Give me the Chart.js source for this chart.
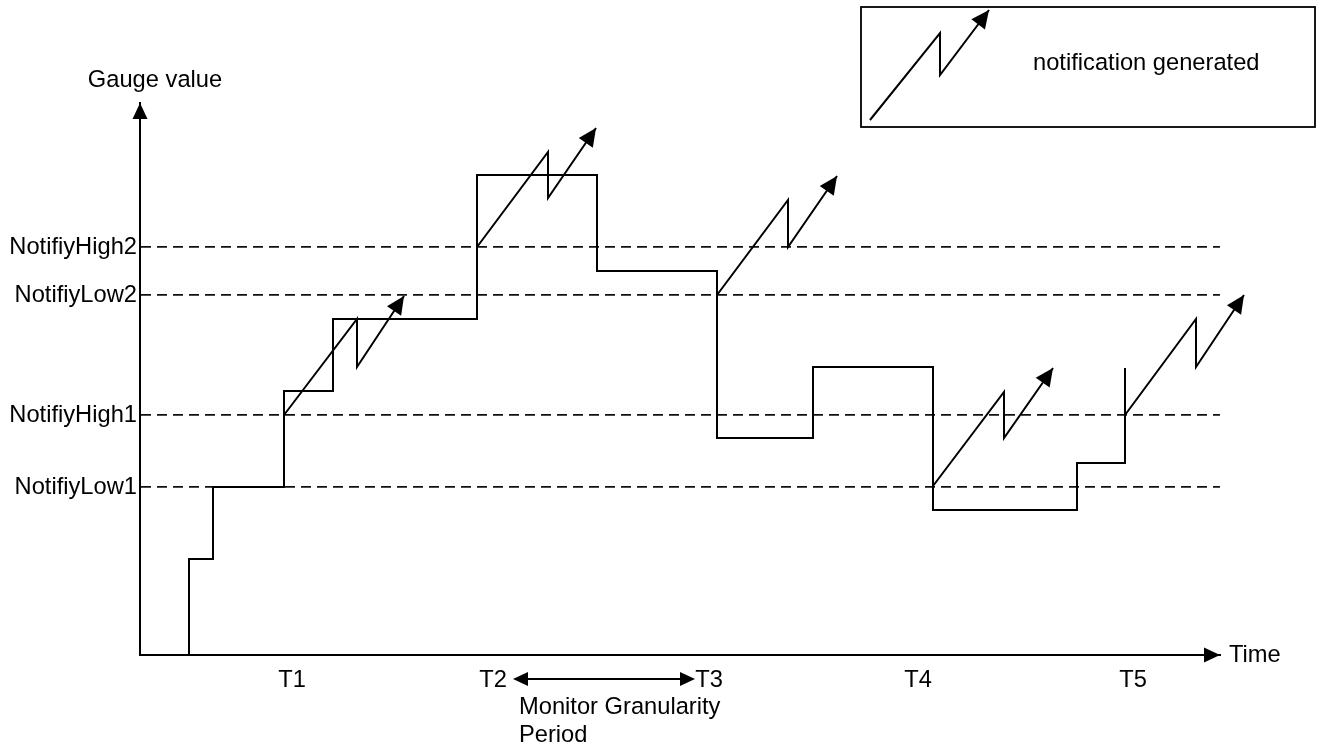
<!DOCTYPE html>
<html>
<head>
<meta charset="utf-8">
<script src="https://cdn.jsdelivr.net/npm/chart.js@4/dist/chart.umd.min.js"></script>
<style>
  html, body { margin: 0; padding: 0; background: #fff; }
  #wrap { width: 1320px; height: 744px; }
</style>
</head>
<body>
<div id="wrap"><canvas id="graf"></canvas></div>
<script>
// limiares (eixo Y)
var limiarNomes = ['NotifiyLow1', 'NotifiyHigh1', 'NotifiyLow2', 'NotifiyHigh2'];
var limiarValores = [168, 240, 360, 408];

// instantes T1..T5 (eixo X)
var tempoNomes = ['T1', 'T2', 'T3', 'T4', 'T5'];
var tempoValores = [152, 353, 569, 778, 993];

// valor do medidor (degraus)
var medidorTempo = [49, 49, 73, 144, 193, 337, 457, 577, 673, 793, 937, 985];
var medidorValor = [0, 96, 168, 264, 336, 480, 384, 217, 288, 145, 192, 287];

// notificacoes geradas: inicio, pico, queda, ponta
var notif1 = [[144, 240], [217, 336], [217, 288], [264, 359]];
var notif2 = [[337, 408], [408, 503], [408, 457], [456, 527]];
var notif3 = [[577, 360], [648, 455], [648, 408], [697, 479]];
var notif4 = [[793, 169], [864, 263], [864, 217], [913, 287]];
var notif5 = [[985, 240], [1056, 336], [1056, 288], [1104, 360]];

var familia = '"Liberation Sans", Arial, sans-serif';
var tamanho = 23.7;
var fonte = tamanho + 'px ' + familia;

function pontos(xs, ys) {
    return xs.map(function (x, i) { return {x: x, y: ys[i]}; });
}
function pares(lista) {
    return lista.map(function (p) { return {x: p[0], y: p[1]}; });
}
function seta(ctx, x0, y0, x1, y1, comp, meia) {
    var a = Math.atan2(y1 - y0, x1 - x0);
    var bx = x1 - comp * Math.cos(a), by = y1 - comp * Math.sin(a);
    ctx.beginPath();
    ctx.moveTo(x1, y1);
    ctx.lineTo(bx + meia * Math.sin(a), by - meia * Math.cos(a));
    ctx.lineTo(bx - meia * Math.sin(a), by + meia * Math.cos(a));
    ctx.closePath();
    ctx.fill();
}

var notifs = [notif1, notif2, notif3, notif4, notif5];
var datasets = [{
    label: 'Gauge',
    data: pontos(medidorTempo, medidorValor),
    stepped: 'before',
    borderColor: '#000',
    borderWidth: 2,
    pointRadius: 0,
    fill: false,
    clip: false
}];
notifs.forEach(function (n, i) {
    datasets.push({
        label: 'notif' + (i + 1),
        data: pares(n),
        borderColor: '#000',
        borderWidth: 2,
        pointRadius: 0,
        fill: false,
        clip: false,
        notif: true
    });
});

var desenhos = {
    id: 'desenhos',
    afterDatasetsDraw: function (chart) {
        var ctx = chart.ctx, ca = chart.chartArea;
        var sx = chart.scales.x;
        ctx.save();
        ctx.fillStyle = '#000';
        ctx.strokeStyle = '#000';

        // pontas das notificacoes
        chart.data.datasets.forEach(function (ds, i) {
            if (!ds.notif) return;
            var pts = chart.getDatasetMeta(i).data;
            var a = pts[pts.length - 2], b = pts[pts.length - 1];
            seta(ctx, a.x, a.y, b.x, b.y, 18, 8.5);
        });

        // setas dos eixos
        seta(ctx, ca.left, ca.top + 20, ca.left, ca.top, 16, 7.5);
        seta(ctx, ca.right - 20, ca.bottom, ca.right, ca.bottom, 16, 7.5);

        ctx.font = fonte;
        ctx.textBaseline = 'middle';
        ctx.textAlign = 'center';
        ctx.fillText('Gauge value', ca.left + 15, ca.top - 23);
        ctx.textAlign = 'left';
        ctx.fillText('Time', ca.right + 9, ca.bottom);

        // periodo de granularidade entre T2 e T3
        var x2 = sx.getPixelForValue(tempoValores[1]);
        var x3 = sx.getPixelForValue(tempoValores[2]);
        var ya = ca.bottom + 24;
        ctx.lineWidth = 2;
        ctx.beginPath();
        ctx.moveTo(x2 + 26, ya);
        ctx.lineTo(x3 - 20, ya);
        ctx.stroke();
        seta(ctx, x3 - 20, ya, x2 + 20, ya, 15, 7);
        seta(ctx, x2 + 20, ya, x3 - 14, ya, 15, 7);
        ctx.fillText('Monitor Granularity', x2 + 26, ca.bottom + 52);
        ctx.fillText('Period', x2 + 26, ca.bottom + 80);

        // legenda
        ctx.lineWidth = 1.8;
        ctx.strokeRect(861, 7, 454, 120);
        ctx.lineWidth = 2;
        ctx.beginPath();
        ctx.moveTo(870, 120);
        ctx.lineTo(940, 33);
        ctx.lineTo(940, 75);
        ctx.lineTo(989, 10);
        ctx.stroke();
        seta(ctx, 940, 75, 989, 10, 18, 8.5);
        ctx.fillText('notification generated', 1033, 63);
        ctx.restore();
    }
};

var graf = new Chart(document.getElementById('graf'), {
    type: 'line',
    data: {datasets: datasets},
    plugins: [desenhos],
    options: {
        responsive: true,
        maintainAspectRatio: false,
        animation: false,
        layout: {padding: {top: 103, right: 100, left: 0, bottom: 0}},
        plugins: {legend: {display: false}, tooltip: {enabled: false}},
        scales: {
            x: {
                type: 'linear',
                min: 0,
                max: 1080,
                afterFit: function (s) { s.height = 89; },
                afterBuildTicks: function (s) {
                    s.ticks = tempoValores.map(function (v) { return {value: v}; });
                },
                ticks: {
                    autoSkip: false,
                    maxRotation: 0,
                    padding: 3,
                    color: '#000',
                    font: {family: familia, size: tamanho},
                    callback: function (v) { return tempoNomes[tempoValores.indexOf(v)]; }
                },
                grid: {display: false},
                border: {display: true, color: '#000', width: 2}
            },
            y: {
                type: 'linear',
                min: 0,
                max: 552,
                afterFit: function (s) { s.width = 140; },
                afterBuildTicks: function (s) {
                    s.ticks = limiarValores.map(function (v) { return {value: v}; });
                },
                ticks: {
                    autoSkip: false,
                    padding: 3,
                    color: '#000',
                    font: {family: familia, size: tamanho},
                    callback: function (v) { return limiarNomes[limiarValores.indexOf(v)]; }
                },
                grid: {drawTicks: false, color: '#111', lineWidth: 1.8},
                border: {display: true, color: '#000', width: 2, dash: [10, 6]}
            }
        }
    }
});
</script>
</body>
</html>
